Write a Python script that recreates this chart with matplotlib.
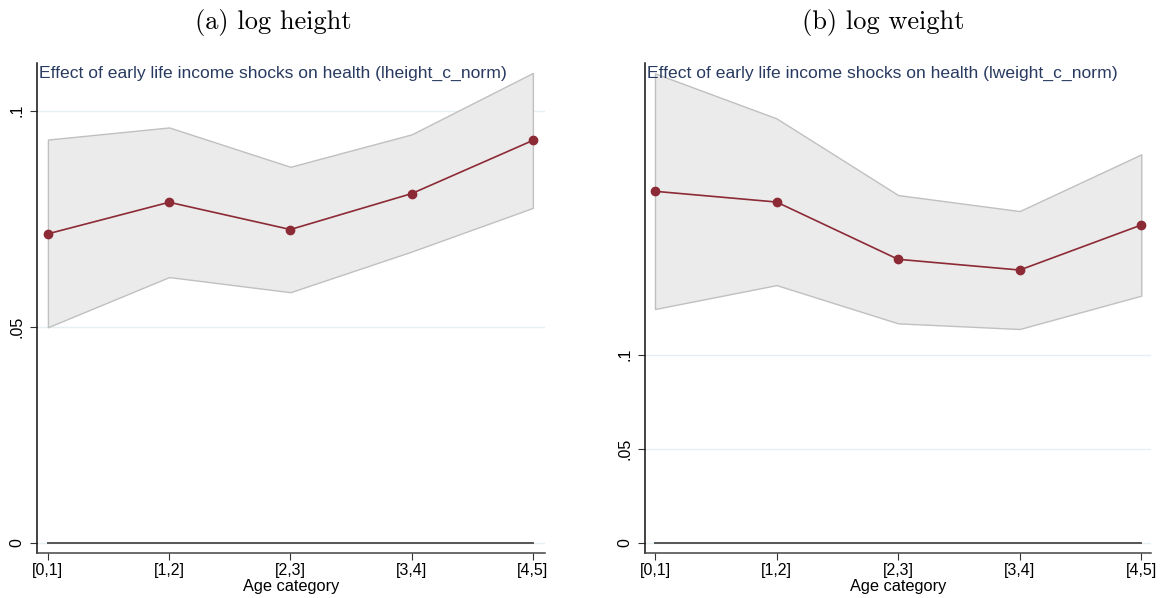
import matplotlib
matplotlib.use("Agg")
import matplotlib.pyplot as plt

categories = ["[0,1]", "[1,2]", "[2,3]", "[3,4]", "[4,5]"]

height_est = [0.0715, 0.0788, 0.0725, 0.0808, 0.0931]
height_hi = [0.0933, 0.0961, 0.0870, 0.0945, 0.1087]
height_lo = [0.0499, 0.0615, 0.0580, 0.0674, 0.0775]

weight_est = [0.1867, 0.1810, 0.1506, 0.1449, 0.1688]
weight_hi = [0.2493, 0.2254, 0.1847, 0.1762, 0.2063]
weight_lo = [0.1242, 0.1369, 0.1166, 0.1136, 0.1313]

yticks = [0, 0.05, 0.1]
yticklabels = ["0", ".05", ".1"]

plt.rcParams["font.family"] = ["Liberation Sans", "DejaVu Sans"]

fig = plt.figure(figsize=(11.62, 5.98), dpi=100)

panels = [
    ([37 / 1162, 45 / 598, 508 / 1162, 490 / 598], "(a) log height", 273 / 1162, "lheight_c_norm",
     height_est, height_hi, height_lo, (-0.09, 4.1), (-0.0023, 0.111)),
    ([645 / 1162, 45 / 598, 506 / 1162, 490 / 598], "(b) log weight", 883 / 1162, "lweight_c_norm",
     weight_est, weight_hi, weight_lo, (-0.082, 4.08), (-0.0053, 0.2548)),
]

for rect, head, hx, var, est, hi, lo, xl, yl in panels:
    ax = fig.add_axes(rect)
    x = list(range(len(categories)))
    for t in yticks:
        ax.axhline(t, color="#e6eff2", lw=1, zorder=0)
    ax.fill_between(x, lo, hi, facecolor="#ebebeb", edgecolor="#c0c0c0", lw=1, zorder=1)
    ax.plot([0, 4], [0, 0], color="#555555", lw=1.4, zorder=2)
    ax.plot(x, est, color="#8c2a36", lw=1.2, marker="o", markersize=6, zorder=3)
    ax.set_xlim(*xl)
    ax.set_ylim(*yl)
    ax.set_xticks(x)
    ax.set_xticklabels(categories, fontsize=11.5)
    ax.set_yticks(yticks)
    ax.set_yticklabels(yticklabels, fontsize=11.5, rotation=90, va="center")
    ax.tick_params(axis="both", direction="out", length=5, width=0.8, color="#333333")
    ax.tick_params(axis="y", pad=4)
    ax.tick_params(axis="x", pad=2)
    ax.set_xlabel("Age category", fontsize=11.8, labelpad=1)
    for side in ["top", "right"]:
        ax.spines[side].set_visible(False)
    ax.spines["left"].set_color("#111111")
    ax.spines["bottom"].set_color("#444444")
    ax.spines["left"].set_linewidth(1.1)
    ax.spines["bottom"].set_linewidth(1.1)
    ax.text(0.004, 0.995, "Effect of early life income shocks on health (" + var + ")",
            transform=ax.transAxes, ha="left", va="top", fontsize=12.6, color="#283a60")
    fig.text(hx, 1 - 22 / 598, head, fontsize=19, family="cmr10", ha="center", va="center")

fig.savefig("out.png", dpi=100)
